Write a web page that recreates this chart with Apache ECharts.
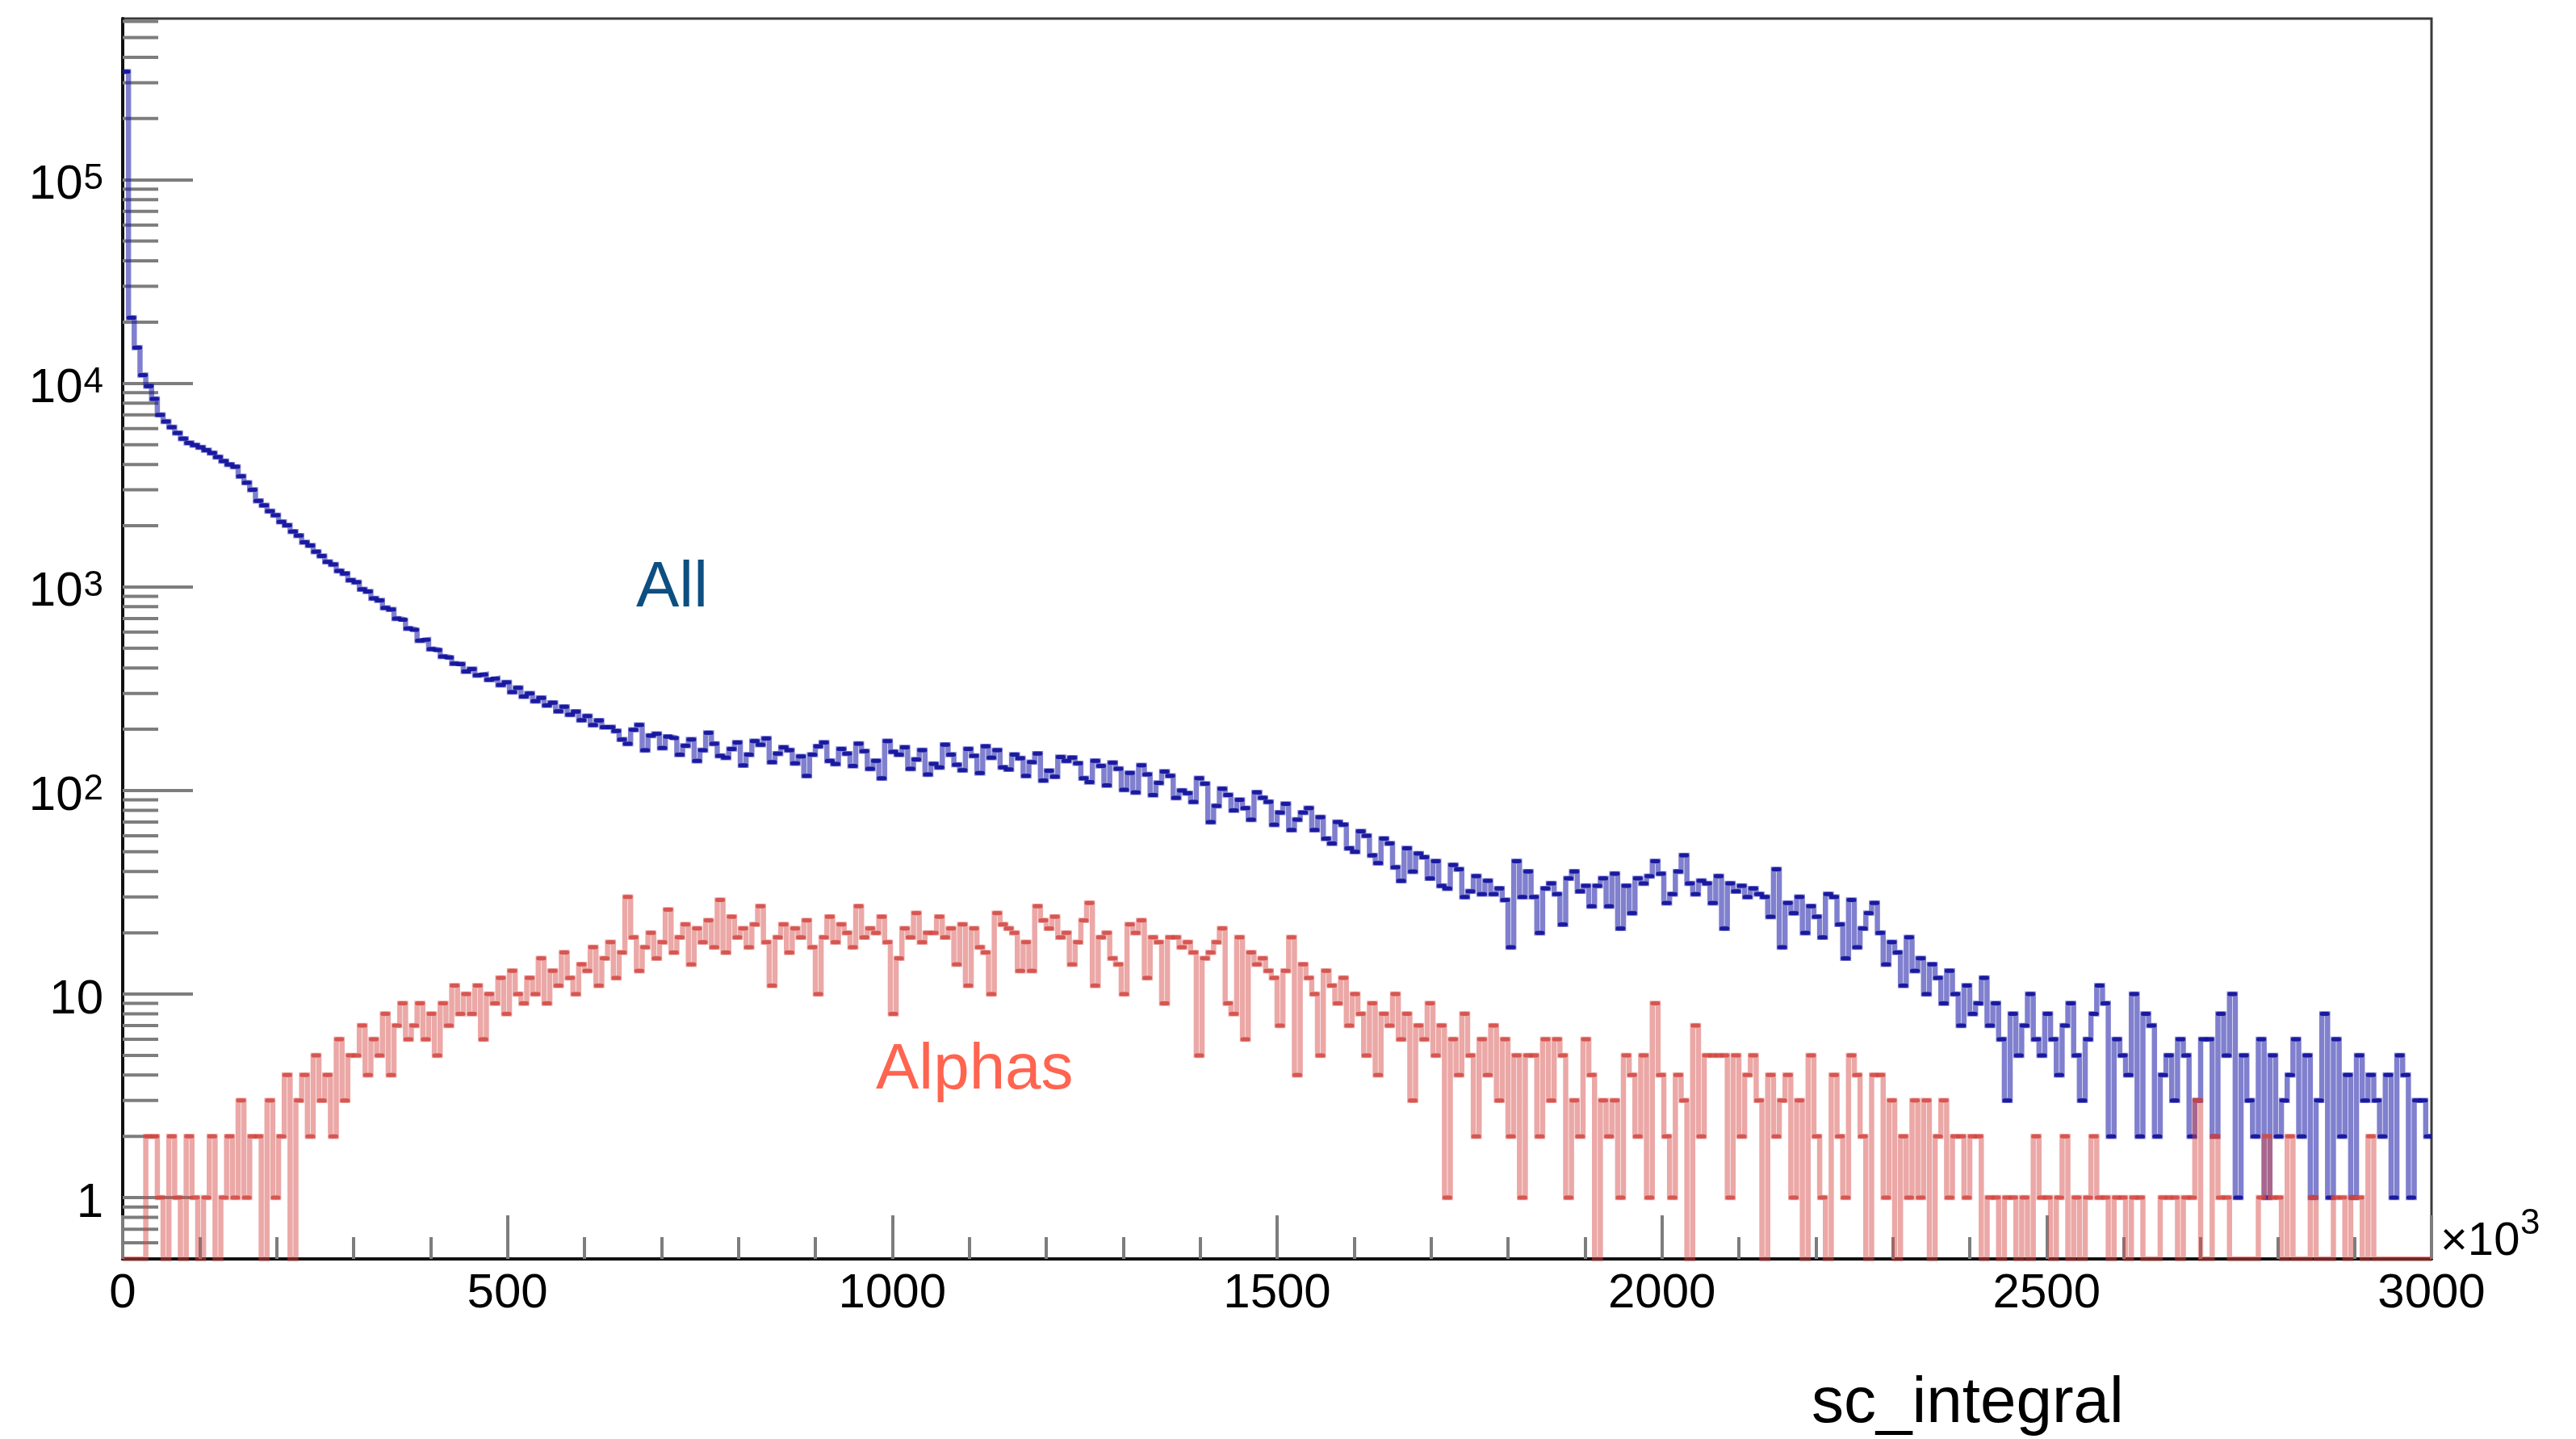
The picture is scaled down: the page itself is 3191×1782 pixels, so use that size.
<!DOCTYPE html>
<html>
<head>
<meta charset="utf-8">
<script src="https://cdn.jsdelivr.net/npm/echarts@6.0.0/dist/echarts.min.js"></script>
<style>
html,body{margin:0;padding:0;background:#ffffff;}
#chart{width:3191px;height:1782px;}
</style>
</head>
<body>
<div id="chart"></div>
<script>
// ---- axis description ----
const X_MIN = 0, X_MAX = 3000, X_INTERVAL = 500;
const BIN_WIDTH = 7.5;           // sc_integral bin width (x10^3)
const Y_MIN = 0.5, Y_MAX = 6.2e5;
const xTickLabels = [0, 500, 1000, 1500, 2000, 2500, 3000];
const yTickLabels = [1, 10, 100, 1000, 10000, 100000];
const xTitle = 'sc_integral';
const xExponentBase = '\u00d710';
const xExponentPower = '3';
const labelAll = 'All';
const labelAlphas = 'Alphas';

// ---- histogram contents (400 bins, 0 .. 3000) ----
const allCounts = [
340000,21000,15000,11000,9700,8400,7000,6500,6100,5700,
5350,5100,4980,4850,4700,4550,4350,4150,4000,3900,
3500,3250,3000,2650,2520,2360,2250,2090,2010,1870,
1790,1660,1600,1490,1420,1330,1290,1200,1165,1080,
1055,975,950,880,860,790,775,700,690,625,
615,545,550,495,490,455,450,420,418,385,
395,368,372,350,355,330,340,305,320,290,
300,275,285,262,270,245,258,236,244,222,
232,210,221,205,205,196,178,170,199,210,
158,186,190,162,184,181,150,166,178,140,
158,192,170,148,145,160,172,133,150,175,
168,180,138,152,163,158,136,147,118,150,
165,172,140,135,160,152,132,170,156,128,
140,115,175,155,150,163,128,142,158,120,
135,130,168,150,134,126,160,148,122,165,
145,158,130,127,150,144,118,138,152,112,
125,117,146,140,145,136,115,110,140,132,
106,137,128,101,122,98,133,120,95,109,
124,118,92,100,97,88,115,108,70,84,
102,95,80,90,82,72,98,92,88,68,
78,86,64,72,78,82,64,74,58,55,
70,68,52,50,63,60,48,44,58,55,
42,36,52,40,49,47,37,45,34,33,
43,41,30,32,38,31,36,31,33,29,
17,45,30,40,30,20,33,35,31,22,
37,40,32,34,27,34,37,27,39,21,
34,25,37,35,38,45,39,28,31,40,
48,35,31,36,35,28,38,21,35,32,
34,30,33,31,30,24,41,17,28,25,
30,20,27,24,19,31,30,22,15,29,
17,21,25,28,20,14,18,16,11,19,
13,15,10,14,12,9,13,10,7,11,
8,9,12,7,9,6,3,8,5,7,
10,6,5,8,6,4,7,9,5,3,
6,8,11,9,2,6,5,4,10,2,
8,7,2,4,5,3,6,5,2,3,
6,6,2,8,5,10,1,5,3,2,
6,1,5,2,3,4,6,2,5,1,
3,8,1,6,2,4,1,5,3,4,
3,2,4,1,5,4,1,3,3,2
];
const alphaCounts = [
0,0,0,0,2,2,1,0,2,1,
0,2,1,0,1,2,0,1,2,1,
3,1,2,2,0,3,1,2,4,0,
3,4,2,5,3,4,2,6,3,5,
5,7,4,6,5,8,4,7,9,6,
7,9,6,8,5,9,7,11,8,10,
8,11,6,10,9,12,8,13,10,9,
12,10,15,9,13,11,16,12,10,14,
13,17,11,15,18,12,16,30,19,13,
17,20,15,18,26,16,19,22,14,21,
18,23,17,29,16,24,19,21,17,22,
27,18,11,19,22,16,21,19,23,17,
10,19,24,18,22,20,17,27,19,21,
20,24,18,8,15,21,19,25,18,20,
20,24,19,21,14,22,11,21,17,16,
10,25,22,21,20,13,18,13,27,23,
21,24,19,20,14,18,23,28,11,19,
20,15,14,10,22,20,23,12,19,18,
9,19,19,17,18,16,5,15,16,18,
21,9,8,19,6,16,14,15,13,12,
7,13,19,4,14,12,10,5,13,11,
9,12,7,10,8,5,9,4,8,7,
10,6,8,3,7,6,9,5,7,1,
6,4,8,5,2,6,4,7,3,6,
2,5,1,5,5,2,6,3,6,5,
1,3,2,6,4,0,3,2,3,1,
5,4,2,5,1,9,4,2,1,4,
3,0,7,2,5,5,5,5,1,5,
2,4,5,3,0,4,2,3,4,1,
3,0,5,2,1,0,4,2,1,5,
4,2,0,4,4,1,3,0,2,1,
3,1,3,0,2,3,1,2,2,1,
2,2,0,1,1,0,1,1,0,1,
0,2,1,1,0,1,2,0,1,0,
1,2,1,1,0,1,1,0,1,1,
0,0,0,1,1,1,0,1,1,3,
0,0,2,1,1,0,0,0,0,0,
1,2,1,1,0,2,0,0,0,1,
0,0,0,1,1,0,1,1,0,2,
0,0,0,0,0,0,0,0,0,0
];

// ---- build library inputs ----
const FONT = '"Liberation Sans", Arial, Helvetica, sans-serif';
const BLUE_LINE = 'rgba(24,24,168,0.55)';
const BLUE_TOP = 'rgba(20,20,158,0.95)';
const RED_LINE = 'rgba(214,74,68,0.48)';
const RED_TOP = 'rgba(212,72,66,0.85)';
const TICK_COLOR = '#7d7d7d';

function stepPoints(counts) {
  // empty bins sit on the frame bottom as in the original log plot
  const pts = counts.map((c, i) => [i * BIN_WIDTH, c > 0 ? c : Y_MIN]);
  pts.push([counts.length * BIN_WIDTH, pts[pts.length - 1][1]]);
  return pts;
}
function binTops(counts) {
  return counts.map((c, i) => [i * BIN_WIDTH, (i + 1) * BIN_WIDTH, c]).filter(d => d[2] > 0);
}
const yMinorTicks = [];
for (let e = -1; e <= 5; e++) {
  for (let m = 2; m <= 9; m++) {
    const v = m * Math.pow(10, e);
    if (v > Y_MIN && v < Y_MAX) yMinorTicks.push([X_MIN, v]);
  }
}
function topRenderer(color) {
  return function (params, api) {
    const a = api.coord([api.value(0), api.value(2)]);
    const b = api.coord([api.value(1), api.value(2)]);
    return { type: 'line', shape: { x1: a[0], y1: a[1], x2: b[0], y2: b[1] },
             style: { stroke: color, lineWidth: 5, lineCap: 'round' } };
  };
}

const chart = echarts.init(document.getElementById('chart'), null, { renderer: 'canvas' });
chart.setOption({
  animation: false,
  backgroundColor: '#ffffff',
  grid: { left: 152, top: 23, right: 179, bottom: 223, show: true,
          borderColor: '#3a3a3a', borderWidth: 3, backgroundColor: 'transparent',
          containLabel: false, outerBoundsMode: 'none' },
  xAxis: {
    type: 'value', min: X_MIN, max: X_MAX, interval: X_INTERVAL,
    axisLine: { show: true, onZero: false, lineStyle: { color: '#111', width: 4 } },
    axisTick: { show: true, inside: true, length: 54, lineStyle: { color: TICK_COLOR, width: 4 } },
    minorTick: { show: true, splitNumber: 5, length: 27, lineStyle: { color: TICK_COLOR, width: 4 } },
    splitLine: { show: false },
    axisLabel: { show: true, margin: 13, fontSize: 60, color: '#000', fontFamily: FONT,
                 formatter: v => (xTickLabels.indexOf(v) >= 0 ? String(v) : '') }
  },
  yAxis: {
    type: 'log', logBase: 10, min: Y_MIN, max: Y_MAX,
    axisLine: { show: true, lineStyle: { color: '#111', width: 4 } },
    axisTick: { show: true, inside: true, length: 87, lineStyle: { color: TICK_COLOR, width: 4 } },
    splitLine: { show: false },
    axisLabel: {
      show: true, margin: 24, color: '#000', fontFamily: FONT, fontSize: 60,
      padding: [14, 0, 0, 0],
      showMinLabel: false, showMaxLabel: false,
      formatter: function (v) {
        const n = Math.round(Math.log10(v));
        if (Math.abs(v - Math.pow(10, n)) > 1e-6 * v) return '';
        if (yTickLabels.indexOf(Math.pow(10, n)) < 0) return '';
        if (n === 0) return '1';
        if (n === 1) return '10';
        return '{b|10}{s|' + n + '}';
      },
      rich: {
        b: { fontSize: 60, fontFamily: FONT, color: '#000', lineHeight: 60, verticalAlign: 'bottom' },
        s: { fontSize: 44, fontFamily: FONT, color: '#000', lineHeight: 44, verticalAlign: 'top', padding: [0, 0, 0, 1] }
      }
    }
  },
  series: [
    { name: labelAll, type: 'line', step: 'end', data: stepPoints(allCounts),
      showSymbol: false, clip: true, z: 3,
      lineStyle: { color: BLUE_LINE, width: 6.5, join: 'miter' } },
    { name: labelAll + ' bins', type: 'custom', data: binTops(allCounts),
      encode: { x: [0, 1], y: 2 }, renderItem: topRenderer(BLUE_TOP), clip: true, z: 4 },
    { name: labelAlphas, type: 'line', step: 'end', data: stepPoints(alphaCounts),
      showSymbol: false, clip: true, z: 5,
      lineStyle: { color: RED_LINE, width: 6.5, join: 'miter' } },
    { name: labelAlphas + ' bins', type: 'custom', data: binTops(alphaCounts),
      encode: { x: [0, 1], y: 2 }, renderItem: topRenderer(RED_TOP), clip: true, z: 6 },
    { name: 'minor ticks', type: 'custom', data: yMinorTicks, encode: { x: 0, y: 1 }, z: 1, silent: true,
      renderItem: function (params, api) {
        const p = api.coord([api.value(0), api.value(1)]);
        return { type: 'line', shape: { x1: p[0], y1: p[1], x2: p[0] + 44, y2: p[1] },
                 style: { stroke: TICK_COLOR, lineWidth: 4 } };
      } }
  ],
  graphic: [
    { type: 'text', x: 788, y: 729, style: { text: labelAll, font: '80px ' + FONT, fill: '#0d4f80',
        align: 'left', textAlign: 'left', verticalAlign: 'middle', textVerticalAlign: 'middle' } },
    { type: 'text', x: 1085, y: 1326, style: { text: labelAlphas, font: '80px ' + FONT, fill: '#ff6450',
        align: 'left', textAlign: 'left', verticalAlign: 'middle', textVerticalAlign: 'middle' } },
    { type: 'text', x: 2244, y: 1739, style: { text: xTitle, font: '80px ' + FONT, fill: '#000',
        align: 'left', textAlign: 'left', verticalAlign: 'middle', textVerticalAlign: 'middle' } },
    { type: 'text', x: 3023, y: 1538, style: { text: xExponentBase, font: '58px ' + FONT, fill: '#000',
        align: 'left', textAlign: 'left', verticalAlign: 'middle', textVerticalAlign: 'middle' } },
    { type: 'text', x: 3122, y: 1516, style: { text: xExponentPower, font: '44px ' + FONT, fill: '#000',
        align: 'left', textAlign: 'left', verticalAlign: 'middle', textVerticalAlign: 'middle' } }
  ]
});
</script>
</body>
</html>
